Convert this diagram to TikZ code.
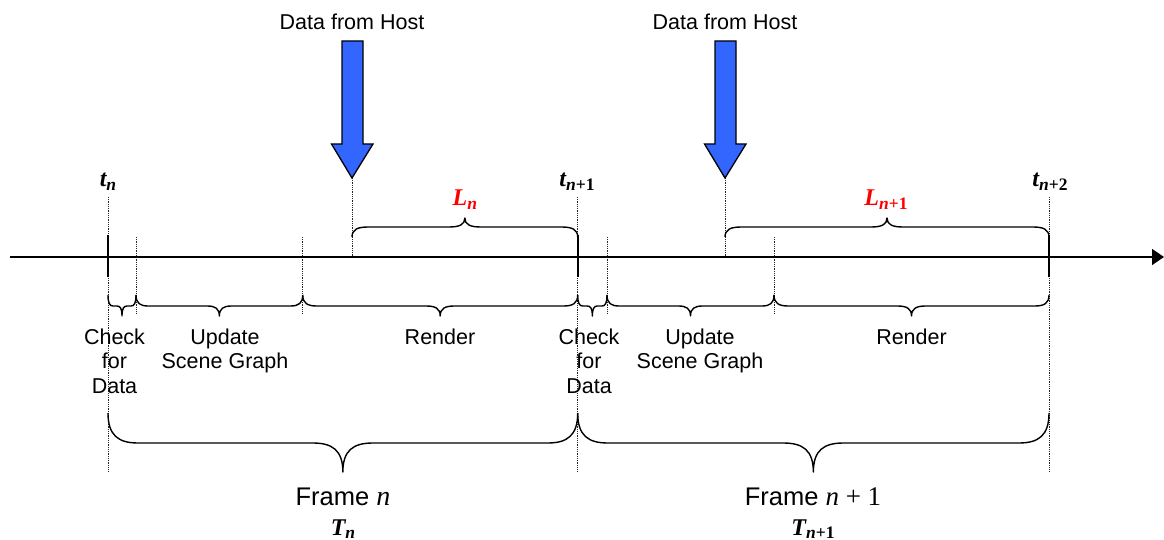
\documentclass[tikz,border=0pt]{standalone}
\usepackage{fontspec}
\setmainfont{Liberation Serif}
\newfontfamily\arialf{Liberation Sans}
\usetikzlibrary{arrows.meta}
\definecolor{hostblue}{RGB}{51,102,255}
\definecolor{lred}{RGB}{255,0,0}
\newcommand\tvar[2]{{\fontsize{24}{24}\selectfont\bfseries\itshape #1\raisebox{-3pt}{\fontsize{17.5}{17.5}\selectfont #2}}}
% brace: x1, x2, yEnd, yFlat, yTip, r
\newcommand\mybrace[6]{%
  \draw[brc] (#1,#3) .. controls (#1,{#3+0.75*(#4-#3)}) and ({#1+0.35*#6},#4) .. ({#1+#6},#4)
    -- ({(#1+#2)/2-#6},#4) .. controls ({(#1+#2)/2-0.35*#6},#4) and ({(#1+#2)/2},{#4+0.25*(#5-#4)}) .. ({(#1+#2)/2},#5)
    .. controls ({(#1+#2)/2},{#4+0.25*(#5-#4)}) and ({(#1+#2)/2+0.35*#6},#4) .. ({(#1+#2)/2+#6},#4)
    -- ({#2-#6},#4) .. controls ({#2-0.35*#6},#4) and (#2,{#3+0.75*(#4-#3)}) .. (#2,#3);}
\begin{document}
\begin{tikzpicture}[x=1pt,y=-1pt,
  lbl/.style={font=\arialf\fontsize{21.5}{24}\selectfont, inner sep=0pt, anchor=base},
  flbl/.style={font=\arialf\fontsize{25.5}{28}\selectfont, inner sep=0pt, anchor=base},
  tlbl/.style={inner sep=0pt, anchor=base},
  dotline/.style={line width=0.7pt, dash pattern=on 0.9pt off 0.9pt, black!85},
  tickline/.style={line width=2pt},
  brc/.style={line width=1.4pt, line join=round},
  hostarrow/.style={fill=hostblue, draw=black, line width=1.3pt, line join=miter}]
\useasboundingbox (0,0) rectangle (1164,540);

% key coordinates
\coordinate (t0) at (108,257);
\coordinate (t1) at (577.7,257);
\coordinate (t2) at (1049,257);
\coordinate (a1) at (352,178);
\coordinate (a2) at (725,178);

% dotted guides
\draw[dotline] (108,197) -- (108,472);
\draw[dotline] (577.7,197) -- (577.7,472);
\draw[dotline] (1049,197) -- (1049,472);
\draw[dotline] (136,237) -- (136,313);
\draw[dotline] (302.7,237) -- (302.7,313);
\draw[dotline] (607,237) -- (607,313);
\draw[dotline] (774,237) -- (774,313);
\draw[dotline] (a1) -- (352,257);
\draw[dotline] (a2) -- (725,257);

% timeline
\draw[line width=1.5pt, -{Triangle[length=12pt,width=16pt]}] (10,257) -- (1164,257);
\draw[tickline] (108,235) -- (108,277);
\draw[tickline] (577.7,235) -- (577.7,277);
\draw[tickline] (1049,235) -- (1049,277);

% host arrows
\draw[hostarrow] (342,41) -- (363,41) -- (363,144) -- (373,144) -- (a1) -- (331.5,144) -- (342,144) -- cycle;
\draw[hostarrow] (715,41) -- (736,41) -- (736,144) -- (746,144) -- (a2) -- (704.5,144) -- (715,144) -- cycle;
\node[lbl] (h1) at (352,30) {Data from Host};
\node[lbl] (h2) at (725,30) {Data from Host};

% time labels
\node[tlbl] (ltn) at (108,187) {\tvar{t}{n}};
\node[tlbl] (ltn1) at (577,187) {\tvar{t}{n\textup{+1}}};
\node[tlbl] (ltn2) at (1050,187) {\tvar{t}{n\textup{+2}}};
\node[tlbl, text=lred] (lLn) at (464.8,206) {\tvar{L}{n}};
\node[tlbl, text=lred] (lLn1) at (886,206) {\tvar{L}{n\textup{+1}}};

% latency braces
\mybrace{352}{577.7}{237}{227}{218}{16}
\mybrace{725}{1049}{237}{227}{218}{16}

% phase braces
\mybrace{108}{136}{295}{306}{316}{5}
\mybrace{136}{302.7}{295}{306}{316}{12}
\mybrace{302.7}{577.7}{295}{306}{316}{14}
\mybrace{577.7}{607}{295}{306}{316}{5}
\mybrace{607}{774}{295}{306}{316}{12}
\mybrace{774}{1049}{295}{306}{316}{14}

% frame braces
\mybrace{108}{577.7}{413}{443}{472}{30}
\mybrace{577.7}{1049}{413}{443}{472}{30}

% phase labels
\node[lbl] (c1a) at (114.5,344) {Check};
\node[lbl] (c1b) at (114.5,368.5) {for};
\node[lbl] (c1c) at (114.5,393) {Data};
\node[lbl] (u1a) at (225,344) {Update};
\node[lbl] (u1b) at (225,368.5) {Scene Graph};
\node[lbl] (r1) at (440,344) {Render};
\node[lbl] (c2a) at (589,344) {Check};
\node[lbl] (c2b) at (589,368.5) {for};
\node[lbl] (c2c) at (589,393) {Data};
\node[lbl] (u2a) at (700,344) {Update};
\node[lbl] (u2b) at (700,368.5) {Scene Graph};
\node[lbl] (r2) at (911.5,344) {Render};

% frame labels
\node[flbl] (f1) at (343,505) {Frame {\rmfamily\fontsize{28}{28}\selectfont\itshape n}};
\node[tlbl] (T1) at (343,535) {\tvar{T}{n}};
\node[flbl] (f2) at (813,505) {Frame {\rmfamily\fontsize{27}{27}\selectfont\itshape n\upshape{} + 1}};
\node[tlbl] (T2) at (813,535) {\tvar{T}{n\textup{+1}}};
\end{tikzpicture}
\end{document}
